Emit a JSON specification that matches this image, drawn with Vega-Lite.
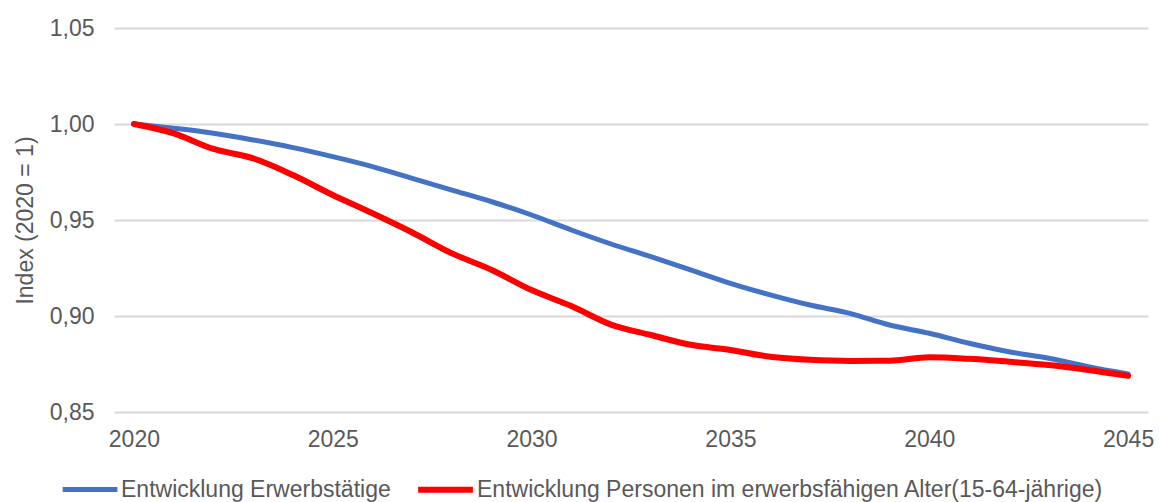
{
  "$schema": "https://vega.github.io/schema/vega-lite/v6.json",
  "width": 1034,
  "height": 384,
  "autosize": {"type": "none"},
  "padding": {"left": 114, "top": 28, "right": 11, "bottom": 90},
  "background": "white",
  "config": {
    "view": {"stroke": null},
    "font": "Liberation Sans",
    "axis": {"labelColor": "#595959", "titleColor": "#595959", "labelFont": "Liberation Sans", "titleFont": "Liberation Sans"},
    "legend": {"labelColor": "#595959", "labelFont": "Liberation Sans"}
  },
  "data": {
    "values": [
      {"year": 2020, "series": "Entwicklung Erwerbstätige", "value": 1.0},
      {"year": 2021, "series": "Entwicklung Erwerbstätige", "value": 0.9978},
      {"year": 2022, "series": "Entwicklung Erwerbstätige", "value": 0.9952},
      {"year": 2023, "series": "Entwicklung Erwerbstätige", "value": 0.9917},
      {"year": 2024, "series": "Entwicklung Erwerbstätige", "value": 0.9877},
      {"year": 2025, "series": "Entwicklung Erwerbstätige", "value": 0.983},
      {"year": 2026, "series": "Entwicklung Erwerbstätige", "value": 0.9778},
      {"year": 2027, "series": "Entwicklung Erwerbstätige", "value": 0.9717},
      {"year": 2028, "series": "Entwicklung Erwerbstätige", "value": 0.9656},
      {"year": 2029, "series": "Entwicklung Erwerbstätige", "value": 0.9595},
      {"year": 2030, "series": "Entwicklung Erwerbstätige", "value": 0.9526},
      {"year": 2031, "series": "Entwicklung Erwerbstätige", "value": 0.9448},
      {"year": 2032, "series": "Entwicklung Erwerbstätige", "value": 0.9375},
      {"year": 2033, "series": "Entwicklung Erwerbstätige", "value": 0.9309},
      {"year": 2034, "series": "Entwicklung Erwerbstätige", "value": 0.924},
      {"year": 2035, "series": "Entwicklung Erwerbstätige", "value": 0.917},
      {"year": 2036, "series": "Entwicklung Erwerbstätige", "value": 0.911},
      {"year": 2037, "series": "Entwicklung Erwerbstätige", "value": 0.9057},
      {"year": 2038, "series": "Entwicklung Erwerbstätige", "value": 0.9014},
      {"year": 2039, "series": "Entwicklung Erwerbstätige", "value": 0.8953},
      {"year": 2040, "series": "Entwicklung Erwerbstätige", "value": 0.891},
      {"year": 2041, "series": "Entwicklung Erwerbstätige", "value": 0.8858},
      {"year": 2042, "series": "Entwicklung Erwerbstätige", "value": 0.8814},
      {"year": 2043, "series": "Entwicklung Erwerbstätige", "value": 0.878},
      {"year": 2044, "series": "Entwicklung Erwerbstätige", "value": 0.8736},
      {"year": 2045, "series": "Entwicklung Erwerbstätige", "value": 0.8698},
      {"year": 2020, "series": "Entwicklung Personen im erwerbsfähigen Alter(15-64-jährige)", "value": 1.0},
      {"year": 2021, "series": "Entwicklung Personen im erwerbsfähigen Alter(15-64-jährige)", "value": 0.9951},
      {"year": 2022, "series": "Entwicklung Personen im erwerbsfähigen Alter(15-64-jährige)", "value": 0.987},
      {"year": 2023, "series": "Entwicklung Personen im erwerbsfähigen Alter(15-64-jährige)", "value": 0.9821},
      {"year": 2024, "series": "Entwicklung Personen im erwerbsfähigen Alter(15-64-jährige)", "value": 0.9734},
      {"year": 2025, "series": "Entwicklung Personen im erwerbsfähigen Alter(15-64-jährige)", "value": 0.963},
      {"year": 2026, "series": "Entwicklung Personen im erwerbsfähigen Alter(15-64-jährige)", "value": 0.9535},
      {"year": 2027, "series": "Entwicklung Personen im erwerbsfähigen Alter(15-64-jährige)", "value": 0.9435},
      {"year": 2028, "series": "Entwicklung Personen im erwerbsfähigen Alter(15-64-jährige)", "value": 0.9326},
      {"year": 2029, "series": "Entwicklung Personen im erwerbsfähigen Alter(15-64-jährige)", "value": 0.924},
      {"year": 2030, "series": "Entwicklung Personen im erwerbsfähigen Alter(15-64-jährige)", "value": 0.9135},
      {"year": 2031, "series": "Entwicklung Personen im erwerbsfähigen Alter(15-64-jährige)", "value": 0.9052},
      {"year": 2032, "series": "Entwicklung Personen im erwerbsfähigen Alter(15-64-jährige)", "value": 0.8955},
      {"year": 2033, "series": "Entwicklung Personen im erwerbsfähigen Alter(15-64-jährige)", "value": 0.8901},
      {"year": 2034, "series": "Entwicklung Personen im erwerbsfähigen Alter(15-64-jährige)", "value": 0.885},
      {"year": 2035, "series": "Entwicklung Personen im erwerbsfähigen Alter(15-64-jährige)", "value": 0.8823},
      {"year": 2036, "series": "Entwicklung Personen im erwerbsfähigen Alter(15-64-jährige)", "value": 0.8788},
      {"year": 2037, "series": "Entwicklung Personen im erwerbsfähigen Alter(15-64-jährige)", "value": 0.8772},
      {"year": 2038, "series": "Entwicklung Personen im erwerbsfähigen Alter(15-64-jährige)", "value": 0.8766},
      {"year": 2039, "series": "Entwicklung Personen im erwerbsfähigen Alter(15-64-jährige)", "value": 0.8767},
      {"year": 2040, "series": "Entwicklung Personen im erwerbsfähigen Alter(15-64-jährige)", "value": 0.8785},
      {"year": 2041, "series": "Entwicklung Personen im erwerbsfähigen Alter(15-64-jährige)", "value": 0.8777},
      {"year": 2042, "series": "Entwicklung Personen im erwerbsfähigen Alter(15-64-jährige)", "value": 0.8762},
      {"year": 2043, "series": "Entwicklung Personen im erwerbsfähigen Alter(15-64-jährige)", "value": 0.8745},
      {"year": 2044, "series": "Entwicklung Personen im erwerbsfähigen Alter(15-64-jährige)", "value": 0.8719},
      {"year": 2045, "series": "Entwicklung Personen im erwerbsfähigen Alter(15-64-jährige)", "value": 0.8688}
    ]
  },
  "mark": {"type": "line", "interpolate": "monotone", "strokeCap": "round", "strokeJoin": "round"},
  "encoding": {
    "x": {
      "field": "year",
      "type": "quantitative",
      "scale": {"domain": [2019.5, 2045.5], "nice": false, "zero": false},
      "axis": {
        "title": null,
        "values": [2020, 2025, 2030, 2035, 2040, 2045],
        "format": "d",
        "grid": false,
        "ticks": false,
        "domain": false,
        "labelFontSize": 23,
        "labelPadding": 16
      }
    },
    "y": {
      "field": "value",
      "type": "quantitative",
      "scale": {"domain": [0.85, 1.05], "nice": false, "zero": false},
      "axis": {
        "title": "Index (2020 = 1)",
        "titleFontSize": 23,
        "titleFontWeight": "normal",
        "titlePadding": 12,
        "values": [0.85, 0.9, 0.95, 1.0, 1.05],
        "labelExpr": "replace(format(datum.value, '.2f'), '.', ',')",
        "labelFontSize": 23,
        "labelPadding": 20,
        "ticks": false,
        "domain": false,
        "grid": true,
        "gridColor": "#d9d9d9",
        "gridWidth": 2
      }
    },
    "color": {
      "field": "series",
      "type": "nominal",
      "scale": {
        "domain": ["Entwicklung Erwerbstätige", "Entwicklung Personen im erwerbsfähigen Alter(15-64-jährige)"],
        "range": ["#4472C4", "#FF0000"]
      },
      "legend": {
        "title": null,
        "orient": "none",
        "legendX": -54,
        "legendY": 431,
        "padding": 0,
        "direction": "horizontal",
        "symbolType": "stroke",
        "symbolSize": 3000,
        "symbolStrokeWidth": 6,
        "labelFontSize": 23,
        "labelLimit": 900,
        "labelOffset": 1,
        "columnPadding": 15
      }
    },
    "strokeWidth": {
      "field": "series",
      "type": "nominal",
      "scale": {
        "domain": ["Entwicklung Erwerbstätige", "Entwicklung Personen im erwerbsfähigen Alter(15-64-jährige)"],
        "range": [5, 6]
      },
      "legend": null
    }
  }
}
